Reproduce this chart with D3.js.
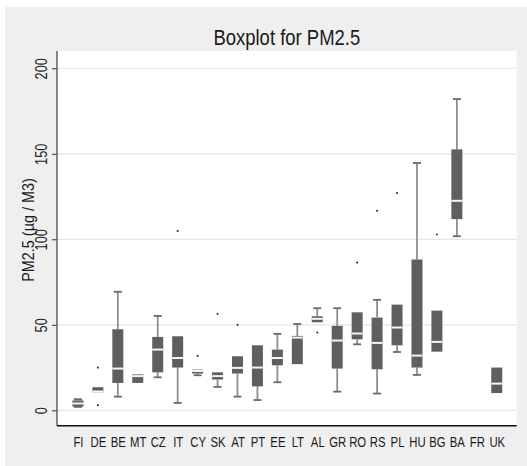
<!DOCTYPE html>
<html>
<head>
<meta charset="utf-8">
<script src="https://cdn.jsdelivr.net/npm/d3@7"></script>
<style>
  html, body { margin: 0; padding: 0; background: #ffffff; }
  svg { display: block; }
  text { font-family: "Liberation Sans Narrow", "Arial Narrow", "Liberation Sans", Arial, sans-serif; }
</style>
</head>
<body>
<svg id="chart" width="527" height="466"></svg>
<script>
// ---- data ----
const categories = ["FI","DE","BE","MT","CZ","IT","CY","SK","AT","PT","EE","LT","AL","GR","RO","RS","PL","HU","BG","BA","FR","UK"];
const lowWhisker  = [2,   10.5, 8,    16,  19.3, 4.3,  20.5, 13.7, 8,    6,  16.4, 27,   51.5, 10.9, 38.6, 9.8,  34.1, 20.7,  34.3, 101.8, null, 10.1];
const q1          = [2.2, 10.5, 16,   16,  22.2, 25,   21.5, 18,   21.5, 14, 26.3, 27,   51.5, 24.4, 41.5, 24,   38,   25,    34.3, 111.8, null, 10.1];
const median      = [4,   11,   24.4, 20,  35.5, 30.6, 23,   20,   24.8, 25, 30.6, 42.5, 53.5, 40.8, 44.9, 39.4, 48.4, 32,    40,   122.5, null, 15.6];
const q3          = [5.8, 13.5, 47.4, 21,  42.9, 43.3, 23.8, 22.2, 31.6, 38, 35.5, 43.5, 55,   49.4, 57.3, 54.2, 61.8, 88.2,  58.3, 152.6, null, 25];
const highWhisker = [6.5, 13.5, 69.3, 21,  55.2, 43.3, 23.8, 22.2, 31.6, 38, 44.7, 50.5, 59.7, 59.7, 57.3, 64.6, 61.8, 144.6, 58.3, 182,   null, 25];
const outlierCats   = ["DE","DE","IT","CY","SK","AT","AL","RO","RS","PL","BG"];
const outlierValues = [25,  3,   104.8, 31.8, 56.4, 50, 45.5, 86.4, 116.7, 127, 102.8];
const yTicks = [0, 50, 100, 150, 200];
const titleText = "Boxplot for PM2.5";
const yTitleText = "PM2.5 (µg / M3)";

// ---- layout ----
const W = 527, H = 466;
const plot = { left: 57, right: 516.7, top: 51, bottom: 425.7 };

const svg = d3.select("#chart");

// squeeze text along its writing direction (narrow face look)
function squeeze(sel, k) {
  sel.each(function () {
    const len = this.getComputedTextLength();
    d3.select(this).attr("textLength", len * k).attr("lengthAdjust", "spacingAndGlyphs");
  });
}

// outer background
svg.append("rect").attr("x", 0).attr("y", 0).attr("width", W).attr("height", H).attr("fill", "#ffffff");
svg.append("rect").attr("x", 5).attr("y", 7).attr("width", W - 5).attr("height", H - 7).attr("fill", "#efefef");
// plot region
svg.append("rect")
  .attr("x", plot.left).attr("y", plot.top)
  .attr("width", plot.right - plot.left).attr("height", plot.bottom - plot.top)
  .attr("fill", "#ffffff");

const x = d3.scalePoint().domain(categories).range([58, plot.right]).padding(1);
const y = d3.scaleLinear().domain([-9, 210.1]).range([plot.bottom, plot.top]);

// gridlines
svg.append("g").selectAll("line").data(yTicks).join("line")
  .attr("x1", plot.left).attr("x2", plot.right)
  .attr("y1", d => y(d)).attr("y2", d => y(d))
  .attr("stroke", "#e6e6e6").attr("stroke-width", 1.2);

// boxes
const rows = categories.map((c, i) => ({
  cat: c, lo: lowWhisker[i], q1: q1[i], med: median[i], q3: q3[i], hi: highWhisker[i]
})).filter(d => d.med !== null);

const boxW = 11, capW = 8;
const g = svg.append("g");

// whiskers
rows.forEach(d => {
  const cx = x(d.cat);
  if (d.hi > d.q3) {
    g.append("line").attr("x1", cx).attr("x2", cx).attr("y1", y(d.q3)).attr("y2", y(d.hi))
      .attr("stroke", "#8e8e8e").attr("stroke-width", 1.8);
    g.append("line").attr("x1", cx - capW / 2).attr("x2", cx + capW / 2).attr("y1", y(d.hi)).attr("y2", y(d.hi))
      .attr("stroke", "#6a6a6a").attr("stroke-width", 1.8);
  }
  if (d.lo < d.q1) {
    g.append("line").attr("x1", cx).attr("x2", cx).attr("y1", y(d.q1)).attr("y2", y(d.lo))
      .attr("stroke", "#8e8e8e").attr("stroke-width", 1.8);
    g.append("line").attr("x1", cx - capW / 2).attr("x2", cx + capW / 2).attr("y1", y(d.lo)).attr("y2", y(d.lo))
      .attr("stroke", "#6a6a6a").attr("stroke-width", 1.8);
  }
});

// box bodies
g.selectAll("rect.box").data(rows).join("rect")
  .attr("class", "box")
  .attr("x", d => x(d.cat) - boxW / 2)
  .attr("width", boxW)
  .attr("y", d => y(d.q3))
  .attr("height", d => Math.max(1, y(d.q1) - y(d.q3)))
  .attr("fill", "#5f5f5f");

// medians
g.selectAll("line.med").data(rows).join("line")
  .attr("class", "med")
  .attr("x1", d => x(d.cat) - boxW / 2).attr("x2", d => x(d.cat) + boxW / 2)
  .attr("y1", d => y(d.med)).attr("y2", d => y(d.med))
  .attr("stroke", "#f4f4f4").attr("stroke-width", 2);

// outliers
g.selectAll("circle.out").data(outlierCats.map((c, i) => ({ cat: c, v: outlierValues[i] }))).join("circle")
  .attr("class", "out")
  .attr("cx", d => x(d.cat)).attr("cy", d => y(d.v)).attr("r", 1.1)
  .attr("fill", "#1a476f");

// y axis
const yAxis = svg.append("g").attr("transform", `translate(${plot.left},0)`)
  .call(d3.axisLeft(y).tickValues(yTicks).tickSize(5).tickSizeOuter(0));
yAxis.select(".domain").attr("stroke", "#4a4a4a").attr("stroke-width", 1.3)
  .attr("d", `M0,${plot.top}V${plot.bottom}`);
yAxis.selectAll(".tick line").attr("stroke", "#333").attr("stroke-width", 1);
yAxis.selectAll(".tick text")
  .attr("transform", "rotate(-90)")
  .attr("text-anchor", "middle")
  .attr("x", 0).attr("y", -10.5).attr("dy", 0)
  .attr("font-size", 16).attr("fill", "#1a1a1a");
squeeze(yAxis.selectAll(".tick text"), 0.8);

// x axis
const xAxis = svg.append("g").attr("transform", `translate(0,${plot.bottom})`)
  .call(d3.axisBottom(x).tickSize(0).tickSizeOuter(0));
xAxis.select(".domain").attr("stroke", "#111").attr("stroke-width", 1.6)
  .attr("d", `M${plot.left},0H${plot.right}`);
xAxis.selectAll(".tick text")
  .attr("y", 21).attr("dy", 0)
  .attr("font-size", 14).attr("fill", "#1a1a1a");
squeeze(xAxis.selectAll(".tick text"), 0.81);

// title
const title = svg.append("text")
  .attr("x", (plot.left + plot.right) / 2).attr("y", 45)
  .attr("text-anchor", "middle")
  .attr("font-size", 22).attr("fill", "#1a1a1a")
  .text(titleText);
squeeze(title, 0.84);

// y title
const yTitle = svg.append("text")
  .attr("transform", "translate(33.5,230) rotate(-90)")
  .attr("text-anchor", "middle")
  .attr("font-size", 16).attr("fill", "#1a1a1a")
  .text(yTitleText);
squeeze(yTitle, 0.9);
</script>
</body>
</html>
